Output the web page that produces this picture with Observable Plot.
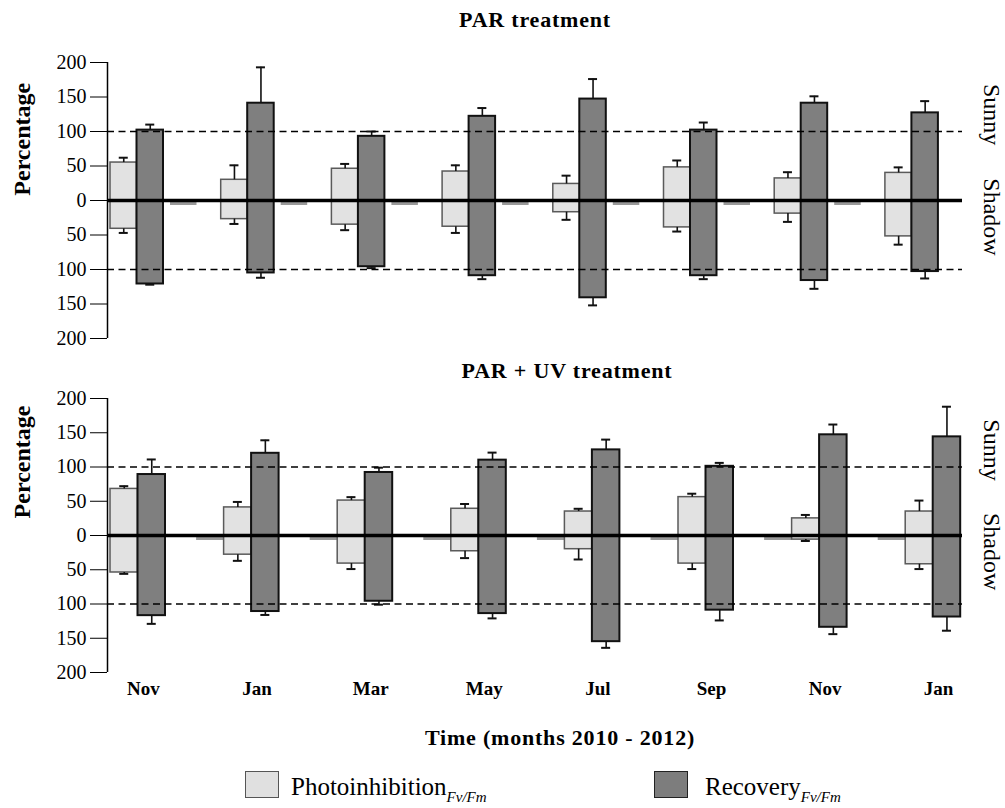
<!DOCTYPE html>
<html>
<head>
<meta charset="utf-8">
<script src="https://cdn.jsdelivr.net/npm/d3@7"></script>
<script src="https://cdn.jsdelivr.net/npm/@observablehq/plot@0.6"></script>
<style>
  body { margin: 0; background: #fff; }
  #wrap { position: relative; width: 1005px; height: 808px; font-family: "Liberation Serif", "Times New Roman", serif; color: #000; overflow: hidden; }
  .abs { position: absolute; white-space: nowrap; z-index: 2; }
  .ttl { font-weight: bold; font-size: 22px; letter-spacing: 0.8px; line-height: 1; transform: translateX(-50%); }
  .box { position: absolute; width: 34px; height: 27px; box-sizing: border-box; }
  .leg { font-size: 25px; line-height: 1; }
  .leg sub { font-style: italic; font-size: 15px; vertical-align: -7px; }
  svg { position: absolute; left: 0; }
  svg text { font-family: "Liberation Serif", "Times New Roman", serif; }
</style>
</head>
<body>
<div id="wrap"></div>
<script>
// ---- data ----
const months = ["Nov", "Jan", "Mar", "May", "Jul", "Sep", "Nov", "Jan"];
const yTicks = [-200, -150, -100, -50, 0, 50, 100, 150, 200];

// PAR treatment (percent; Sunny plotted up, Shadow plotted down)
const parSunnyPhoto        = [55, 30, 46, 42, 24, 48, 32, 40];
const parSunnyPhotoErr     = [7, 21, 7, 9, 12, 10, 9, 8];
const parSunnyRecovery     = [102, 141, 93, 122, 147, 102, 141, 127];
const parSunnyRecoveryErr  = [8, 52, 7, 12, 29, 11, 10, 17];
const parShadowPhoto       = [41, 27, 35, 38, 17, 39, 19, 52];
const parShadowPhotoErr    = [6, 7, 8, 9, 11, 6, 12, 12];
const parShadowRecovery    = [121, 105, 96, 109, 141, 109, 116, 103];
const parShadowRecoveryErr = [1, 7, 2, 5, 11, 5, 12, 10];
const parEmpty             = [0, 0, 0, 0, 0, 0, 0, null];

// PAR + UV treatment
const uvSunnyPhoto         = [68, 41, 51, 39, 35, 56, 25, 35];
const uvSunnyPhotoErr      = [4, 8, 5, 7, 4, 5, 5, 16];
const uvSunnyRecovery      = [89, 120, 92, 110, 125, 101, 147, 144];
const uvSunnyRecoveryErr   = [22, 19, 7, 11, 15, 5, 15, 44];
const uvShadowPhoto        = [54, 28, 41, 23, 20, 41, 6, 42];
const uvShadowPhotoErr     = [2, 9, 8, 10, 15, 8, 2, 7];
const uvShadowRecovery     = [117, 111, 96, 114, 155, 109, 134, 119];
const uvShadowRecoveryErr  = [12, 5, 5, 7, 9, 15, 10, 20];
const uvEmpty              = [null, 0, 0, 0, 0, 0, 0, 0];

const FONT = '"Liberation Serif", "Times New Roman", serif';

function panel(o) {
  const W = o.barW;
  const bars = [];
  months.forEach((m, i) => {
    bars.push({ i, s: "P", v: o.sunP[i], e: o.sunPe[i] });
    bars.push({ i, s: "R", v: o.sunR[i], e: o.sunRe[i] });
    bars.push({ i, s: "P", v: -o.shP[i], e: -o.shPe[i] });
    bars.push({ i, s: "R", v: -o.shR[i], e: -o.shRe[i] });
  });
  const x1 = d => d.i + (d.s === "P" ? 0 : W);
  const x2 = d => x1(d) + W;
  const xc = d => x1(d) + W / 2;
  const cap = 4.5 / o.unit;
  const empties = o.empty.map((v, i) => ({ i, v })).filter(d => d.v !== null);
  const xmin = -3 / o.unit, xmax = 852 / o.unit;
  const light = bars.filter(d => d.s === "P");
  const dark = bars.filter(d => d.s === "R");
  const marks = [
    Plot.ruleY(empties, { y: "v", x1: d => d.i + o.emptyOff, x2: d => d.i + o.emptyOff + W, stroke: "#9a9a9a", strokeWidth: 3, dy: 3 }),
    Plot.rect(light, { x1, x2, y1: 0, y2: "v", fill: "#e2e2e2", stroke: "#5a5a5a", strokeWidth: 1.5 }),
    Plot.rect(dark, { x1, x2, y1: 0, y2: "v", fill: "#7f7f7f", stroke: "#111", strokeWidth: 2 }),
    Plot.ruleX(bars, { x: xc, y1: "v", y2: d => d.v + d.e, stroke: "#111", strokeWidth: 1.6 }),
    Plot.ruleY(bars, { y: d => d.v + d.e, x1: d => xc(d) - cap, x2: d => xc(d) + cap, stroke: "#111", strokeWidth: 2 }),
    Plot.ruleY([100, -100], { stroke: "#000", strokeWidth: 1.6, strokeDasharray: "7,4.5" }),
    Plot.ruleY([0], { stroke: "#000", strokeWidth: 3.5 }),
    Plot.ruleX([xmin], { y1: -200, y2: 200, stroke: "#000", strokeWidth: 1.5 }),
    Plot.axisY({ ticks: yTicks, tickFormat: d => Math.abs(d), tickSize: 17, tickPadding: 4, label: null, fontSize: 20, fontFamily: FONT, fontVariant: "normal" }),
    Plot.text([o.pctY], { y: d => d, text: () => "Percentage", frameAnchor: "left", dx: -85, rotate: -90, fontWeight: "bold", fontSize: 24, fontFamily: FONT }),
    Plot.text([80], { y: d => d, text: () => "Sunny", frameAnchor: "right", dx: 29, rotate: 90, fontSize: 24, fontFamily: FONT }),
    Plot.text([-80], { y: d => d, text: () => "Shadow", frameAnchor: "right", dx: 29, rotate: 90, fontSize: 24, fontFamily: FONT })
  ];
  if (o.showMonths) {
    marks.push(Plot.text(months.map((m, i) => ({ m, i })), {
      x: d => d.i + 0.29, text: "m", frameAnchor: "bottom", dy: 22, fontWeight: "bold", fontSize: 19, fontFamily: FONT
    }));
  }
  const svg = Plot.plot({
    width: 1005,
    height: o.height,
    marginTop: o.mTop,
    marginBottom: o.mBottom,
    marginLeft: 107,
    marginRight: 43,
    x: { type: "linear", domain: [xmin, xmax], axis: null },
    y: { domain: [-200, 200], axis: null },
    style: { fontFamily: FONT, fontSize: "20px", background: "transparent", overflow: "visible", color: "#000" },
    marks
  });
  svg.style.top = o.top + "px";
  return svg;
}

const wrap = document.getElementById("wrap");

wrap.appendChild(panel({
  sunP: parSunnyPhoto, sunPe: parSunnyPhotoErr, sunR: parSunnyRecovery, sunRe: parSunnyRecoveryErr,
  shP: parShadowPhoto, shPe: parShadowPhotoErr, shR: parShadowRecovery, shRe: parShadowRecoveryErr,
  empty: parEmpty, unit: 110.7, barW: 26.5 / 110.7, emptyOff: 60 / 110.7,
  top: 0, height: 345, mTop: 62, mBottom: 7, pctY: 7, showMonths: false
}));

wrap.appendChild(panel({
  sunP: uvSunnyPhoto, sunPe: uvSunnyPhotoErr, sunR: uvSunnyRecovery, sunRe: uvSunnyRecoveryErr,
  shP: uvShadowPhoto, shPe: uvShadowPhotoErr, shR: uvShadowRecovery, shRe: uvShadowRecoveryErr,
  empty: uvEmpty, unit: 113.6, barW: 27.5 / 113.6, emptyOff: -27.5 / 113.6,
  top: 350, height: 360, mTop: 48, mBottom: 38, pctY: 25, showMonths: true
}));

function addText(html, cls, left, top) {
  const d = document.createElement("div");
  d.className = "abs " + cls;
  d.style.left = left + "px";
  d.style.top = top + "px";
  d.innerHTML = html;
  wrap.appendChild(d);
  return d;
}

addText("PAR treatment", "ttl", 535, 9);
addText("PAR + UV treatment", "ttl", 567, 360);
addText("Time (months 2010 - 2012)", "ttl", 560, 727);

function addBox(left, fill, stroke) {
  const b = document.createElement("div");
  b.className = "box";
  b.style.left = left + "px";
  b.style.top = "771px";
  b.style.background = fill;
  b.style.border = "1.5px solid " + stroke;
  wrap.appendChild(b);
}
addBox(245, "#e0e0e0", "#555");
addText("Photoinhibition<sub>Fv/Fm</sub>", "leg", 291, 774);
addBox(654, "#7d7d7d", "#222");
addText("Recovery<sub>Fv/Fm</sub>", "leg", 705, 774);
</script>
</body>
</html>
